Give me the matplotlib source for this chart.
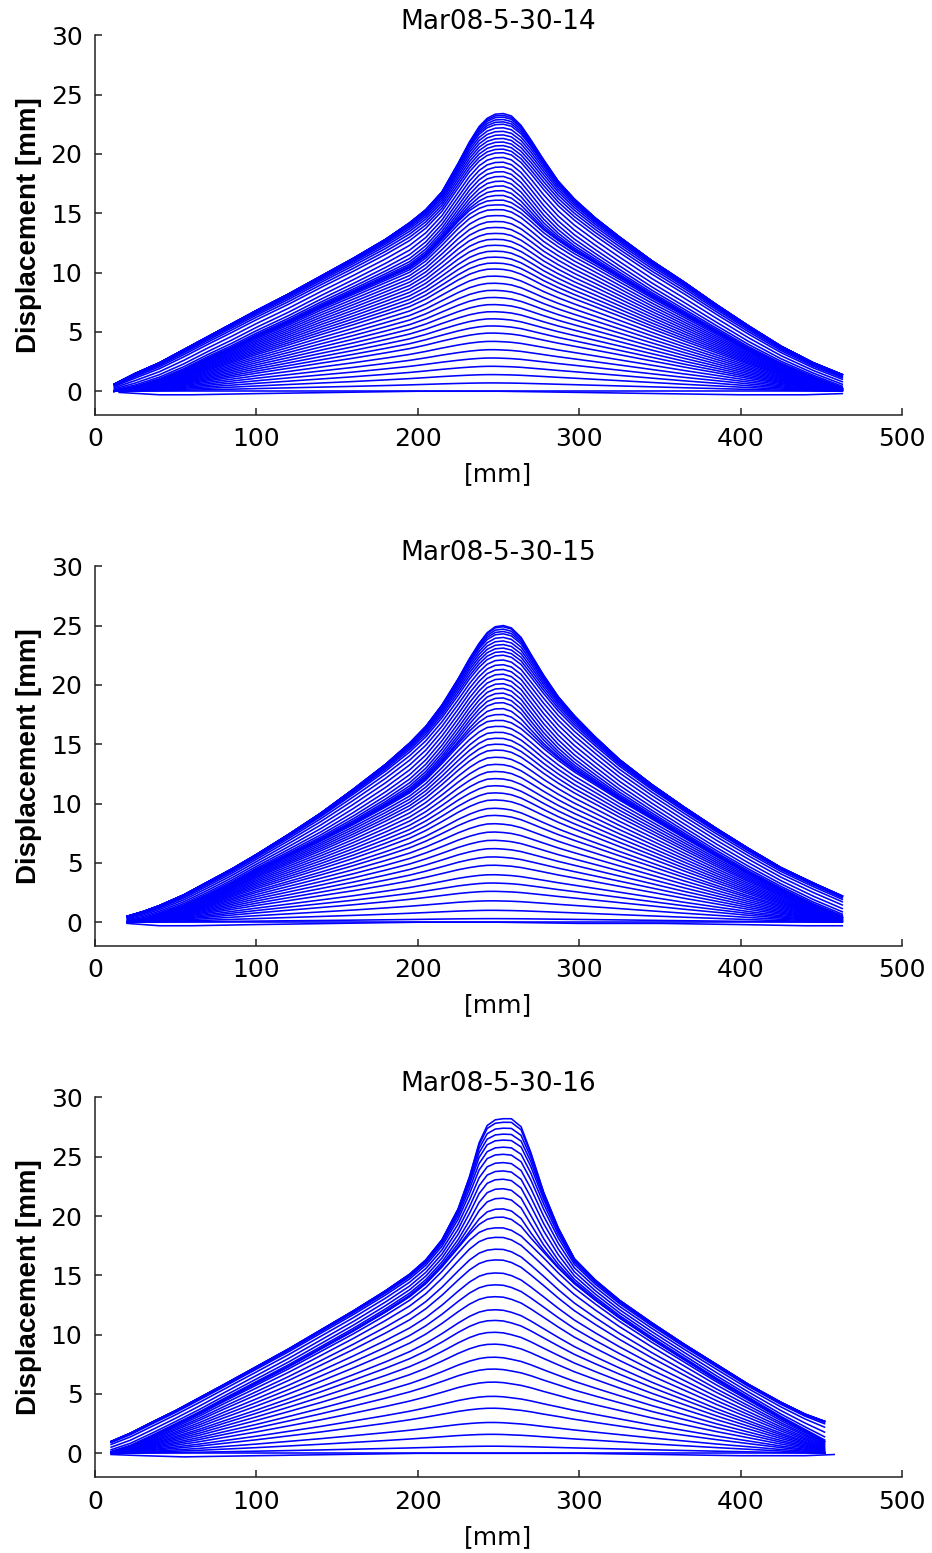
import numpy as np
import matplotlib
matplotlib.use("Agg")
import matplotlib.pyplot as plt

plt.rcParams['font.family'] = ['DejaVu Sans']

titles = ['Mar08-5-30-14', 'Mar08-5-30-15', 'Mar08-5-30-16']

# ---- test 14 ----
x14 = [12, 25, 40, 55, 70, 85, 100, 120, 140, 160, 180, 195, 205, 215, 225,
       232, 238, 243, 248, 253, 258, 264, 270, 278, 287, 297, 310, 325, 345,
       365, 385, 405, 425, 445, 463]
low14 = [0.0, 0.02, 0.06, 0.12, 0.18, 0.25, 0.32, 0.41, 0.50, 0.59, 0.69,
         0.77, 0.83, 0.89, 0.94, 0.97, 0.99, 1.0, 1.0, 0.99, 0.98, 0.96, 0.93,
         0.89, 0.84, 0.79, 0.72, 0.64, 0.53, 0.42, 0.32, 0.22, 0.13, 0.05, 0.0]
band14 = [0.0, 0.3, 0.9, 1.7, 2.7, 3.6, 4.6, 5.8, 7.1, 8.3, 9.5, 10.4, 11.4,
          12.8, 14.3, 15.2, 15.7, 15.95, 16.0, 16.0, 15.8, 15.3, 14.6, 13.6,
          12.7, 11.8, 10.8, 9.6, 8.0, 6.5, 5.0, 3.5, 2.2, 1.1, 0.2]
outer14 = [0.6, 1.5, 2.4, 3.5, 4.6, 5.7, 6.8, 8.2, 9.7, 11.2, 12.8, 14.2,
           15.3, 16.8, 19.2, 21.0, 22.3, 23.0, 23.35, 23.4, 23.2, 22.4, 21.2,
           19.5, 17.7, 16.2, 14.6, 13.0, 11.0, 9.2, 7.3, 5.5, 3.8, 2.4, 1.4]
floor14_x = [15, 40, 60, 100, 150, 200, 250, 300, 350, 400, 440, 463]
floor14 = [-0.1, -0.3, -0.3, -0.2, -0.1, 0.0, 0.0, -0.1, -0.2, -0.3, -0.3, -0.2]
peaks14 = [0.0, 0.7, 1.4, 2.1, 2.8, 3.5, 4.2, 4.9, 5.5, 6.1, 6.7, 7.3, 7.9,
           8.5, 9.1, 9.7, 10.3, 10.8, 11.3, 11.8, 12.3, 12.8, 13.3, 13.8, 14.3,
           14.8, 15.3, 15.7, 16.1, 16.5, 16.9, 17.3, 17.7, 18.1, 18.5, 18.9,
           19.3, 19.7, 20.1, 20.4, 20.7, 21.0, 21.3, 21.6, 21.9, 22.2, 22.5,
           22.7, 22.9, 23.1, 23.25, 23.4]

# ---- test 15 ----
x15 = [20, 30, 40, 55, 70, 85, 100, 120, 140, 160, 180, 195, 205, 215, 225,
       232, 238, 243, 248, 253, 258, 264, 270, 278, 287, 297, 310, 325, 345,
       365, 385, 405, 425, 445, 463]
low15 = [0.0, 0.02, 0.05, 0.11, 0.17, 0.24, 0.31, 0.40, 0.49, 0.58, 0.68,
         0.76, 0.82, 0.88, 0.94, 0.97, 0.99, 1.0, 1.0, 0.99, 0.98, 0.96, 0.93,
         0.89, 0.84, 0.79, 0.72, 0.64, 0.53, 0.42, 0.32, 0.22, 0.13, 0.05, 0.0]
band15 = [0.0, 0.2, 0.6, 1.3, 2.2, 3.2, 4.3, 5.6, 6.9, 8.3, 9.8, 11.0, 12.1,
          13.5, 15.0, 16.0, 16.7, 17.1, 17.2, 17.2, 17.0, 16.5, 15.8, 14.8,
          13.8, 12.8, 11.7, 10.4, 8.8, 7.2, 5.6, 4.1, 2.7, 1.4, 0.4]
outer15 = [0.5, 0.9, 1.4, 2.3, 3.4, 4.5, 5.7, 7.4, 9.2, 11.2, 13.3, 15.1,
           16.5, 18.3, 20.5, 22.2, 23.5, 24.4, 24.9, 25.0, 24.8, 24.0, 22.6,
           20.8, 19.0, 17.4, 15.6, 13.7, 11.6, 9.7, 7.9, 6.2, 4.6, 3.3, 2.2]
floor15_x = [20, 40, 60, 100, 150, 200, 250, 300, 350, 400, 440, 463]
floor15 = [-0.1, -0.3, -0.3, -0.2, -0.1, 0.0, 0.0, -0.1, -0.1, -0.2, -0.3, -0.3]
peaks15 = [0.0, 0.3, 1.0, 1.8, 2.6, 3.3, 4.0, 4.8, 5.5, 6.2, 6.9, 7.6, 8.3,
           9.0, 9.6, 10.3, 10.9, 11.5, 12.1, 12.7, 13.3, 13.9, 14.5, 15.0, 15.5,
           16.0, 16.5, 17.0, 17.5, 18.0, 18.5, 18.9, 19.3, 19.7, 20.1, 20.5,
           20.9, 21.3, 21.7, 22.1, 22.5, 22.8, 23.1, 23.4, 23.7, 24.0, 24.3,
           24.5, 24.7, 24.9, 25.0]

# ---- test 16 ----
x16 = [10, 22, 35, 50, 65, 80, 100, 120, 140, 160, 180, 195, 205, 215, 225,
       232, 238, 243, 248, 253, 258, 264, 270, 278, 287, 297, 310, 325, 345,
       365, 385, 405, 425, 440, 452]
low16 = [0.0, 0.02, 0.06, 0.11, 0.16, 0.22, 0.30, 0.39, 0.48, 0.58, 0.68,
         0.76, 0.82, 0.88, 0.94, 0.97, 0.99, 1.0, 1.0, 0.99, 0.97, 0.95, 0.92,
         0.87, 0.82, 0.76, 0.69, 0.61, 0.50, 0.40, 0.30, 0.21, 0.12, 0.06, 0.0]
band16 = [0.1, 0.6, 1.4, 2.4, 3.4, 4.5, 5.9, 7.3, 8.8, 10.3, 11.9, 13.2, 14.3,
          15.7, 17.3, 18.4, 19.1, 19.4, 19.5, 19.5, 19.3, 18.8, 18.0, 16.9,
          15.6, 14.3, 12.9, 11.4, 9.6, 7.9, 6.2, 4.6, 3.0, 1.9, 1.0]
outer16 = [1.0, 1.7, 2.6, 3.6, 4.7, 5.8, 7.3, 8.8, 10.4, 12.0, 13.7, 15.1,
           16.3, 18.0, 20.6, 23.3, 26.2, 27.7, 28.2, 28.3, 28.3, 27.6, 25.4,
           22.0, 19.0, 16.4, 14.6, 12.9, 11.0, 9.2, 7.5, 5.8, 4.3, 3.3, 2.7]
floor16_x = [10, 30, 55, 100, 150, 200, 250, 300, 350, 400, 440, 458]
floor16 = [-0.1, -0.2, -0.3, -0.2, -0.1, 0.0, 0.0, 0.0, -0.1, -0.2, -0.2, -0.1]
peaks16 = [0.0, 0.6, 1.6, 2.6, 3.8, 4.8, 6.0, 7.1, 8.1, 9.2, 10.2, 11.2, 12.1,
           13.2, 14.2, 15.2, 16.3, 17.2, 18.2, 19.0, 19.9, 20.6, 21.5, 22.3,
           23.1, 23.8, 24.5, 25.2, 25.8, 26.4, 26.9, 27.4, 27.9, 28.2]

tests = [
    (x14, low14, band14, outer14, floor14_x, floor14, peaks14),
    (x15, low15, band15, outer15, floor15_x, floor15, peaks15),
    (x16, low16, band16, outer16, floor16_x, floor16, peaks16),
]

BLUE = '#0000ff'


def draw_profiles(ax, x, low, band, outer, fx, floor, peaks):
    """ one line per load step: small loads follow the low shape,
    large loads sit between the band and the outer envelope """
    low = np.array(low)
    band = np.array(band)
    outer = np.array(outer)
    pb = band.max()
    pm = outer.max()
    # flanks of the late steps bunch up on the band and on the envelope
    a = 1 + 2.5 * (1 - outer / pm)
    ax.plot(fx, floor, c=BLUE, lw=1.15)
    for p in peaks:
        if p <= pb:
            s = p / pb
            y = p * ((1 - s) * low + s * band / pb)
        else:
            t = (p - pb) / (pm - pb)
            w = t ** a / (t ** a + (1 - t) ** a)
            y = band + w * (outer - band)
        ax.plot(x, y, c=BLUE, lw=1.15)


fig = plt.figure(figsize=(9.32, 15.53), dpi=100)
bottoms = [0.7328, 0.3909, 0.0489]
for title, bottom, data in zip(titles, bottoms, tests):
    ax = fig.add_axes([0.1019, bottom, 0.8659, 0.2445])
    draw_profiles(ax, *data)
    ax.set_xlim(0, 500)
    ax.set_ylim(-2, 30)
    ax.set_xticks([0, 100, 200, 300, 400, 500])
    ax.set_yticks([0, 5, 10, 15, 20, 25, 30])
    ax.spines['top'].set_visible(False)
    ax.spines['right'].set_visible(False)
    for side in ['left', 'bottom']:
        ax.spines[side].set_linewidth(1.1)
        ax.spines[side].set_color('#222222')
    ax.tick_params(direction='in', length=5, width=1.1, labelsize=18, pad=9,
                   color='#222222')
    ax.set_title(title, fontsize=19, pad=3)
    ax.set_xlabel('[mm]', fontsize=18, labelpad=8)
    ax.set_ylabel('Displacement [mm]', fontsize=20, fontweight='bold',
                  family=['Liberation Sans', 'DejaVu Sans'], labelpad=6)

fig.savefig('out.png', dpi=100)
